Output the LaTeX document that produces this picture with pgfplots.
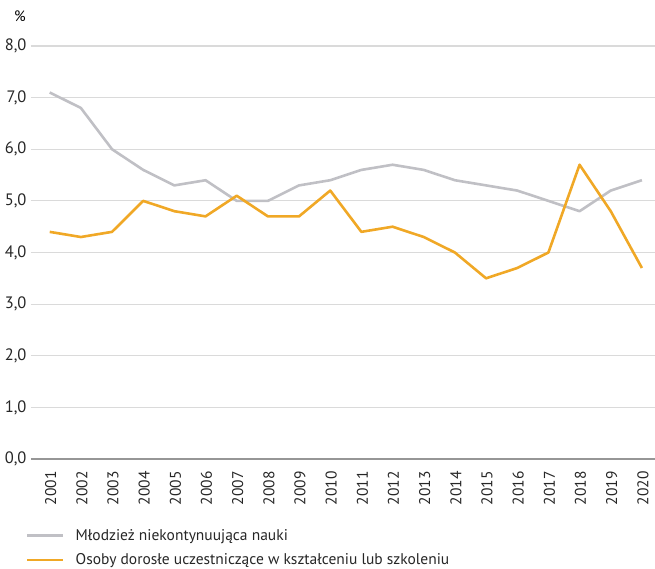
\documentclass[border=0pt]{standalone}
\usepackage{pgfplots}
\pgfplotsset{compat=1.18}
\usepackage{fontspec}
\setmainfont{PT Sans}
\definecolor{mlgray}{RGB}{192,192,197}
\definecolor{dorange}{RGB}{240,168,38}
\definecolor{gridgray}{RGB}{218,218,218}
\definecolor{basegray}{RGB}{150,150,150}
\begin{document}
\begin{tikzpicture}[x=1pt,y=1pt]
\useasboundingbox (0,0) rectangle (655,568);
\node[font=\fontsize{15}{18}\selectfont, anchor=center] at (20,552) {\%};
\begin{axis}[
    at={(31pt,109pt)}, anchor=south west,
    scale only axis,
    width=624pt, height=413pt,
    xmin=2000.4, xmax=2020.42,
    ymin=0, ymax=8,
    axis x line*=bottom,
    axis y line*=left,
    y axis line style={draw=none},
    x axis line style={basegray, line width=1.2pt, -},
    xtick={2001,...,2020},
    ytick={0,1,...,8},
    major tick length=0pt,
    ymajorgrids,
    grid style={gridgray, line width=1.2pt},
    x tick label style={rotate=90, anchor=east, yshift=-1pt, xshift=-9pt, font=\fontsize{15.5}{18}\selectfont},
    xticklabel={\pgfmathprintnumber[1000 sep={}]{\tick}},
    y tick label style={anchor=east, xshift=-1pt, font=\fontsize{16.5}{18}\selectfont},
    yticklabel={\pgfmathprintnumber[fixed, fixed zerofill, precision=1, use comma]{\tick}},
    /pgf/number format/assume math mode=true,
    tick label style={text=black!85},
    legend style={at={(-0.013,-0.16)}, anchor=north west, draw=none, fill=none,
        font=\fontsize{15.5}{18}\selectfont, row sep=8pt, text=black!85,
        /tikz/every odd column/.append style={column sep=9pt}},
    legend cell align=left,
    legend image code/.code={\draw[#1] (0pt,0pt) -- (36pt,0pt);},
    clip=false,
]
\addplot[mlgray, line width=2.6pt, line join=round] coordinates {
(2001,7.1) (2002,6.8) (2003,6.0) (2004,5.6) (2005,5.3) (2006,5.4) (2007,5.0)
(2008,5.0) (2009,5.3) (2010,5.4) (2011,5.6) (2012,5.7) (2013,5.6) (2014,5.4)
(2015,5.3) (2016,5.2) (2017,5.0) (2018,4.8) (2019,5.2) (2020,5.4)};
\addlegendentry{Młodzież niekontynuująca nauki}
\addplot[dorange, line width=2.6pt, line join=round] coordinates {
(2001,4.4) (2002,4.3) (2003,4.4) (2004,5.0) (2005,4.8) (2006,4.7) (2007,5.1)
(2008,4.7) (2009,4.7) (2010,5.2) (2011,4.4) (2012,4.5) (2013,4.3) (2014,4.0)
(2015,3.5) (2016,3.7) (2017,4.0) (2018,5.7) (2019,4.8) (2020,3.7)};
\addlegendentry{Osoby dorosłe uczestniczące w kształceniu lub szkoleniu}
\end{axis}
\end{tikzpicture}
\end{document}
